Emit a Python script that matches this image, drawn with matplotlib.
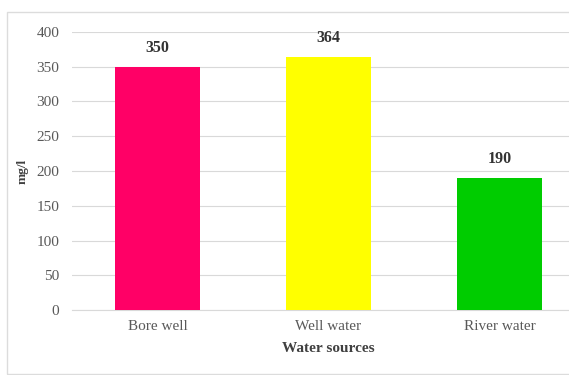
import matplotlib.pyplot as plt
from matplotlib.patches import Rectangle

sources = ["Bore well", "Well water", "River water"]
values = [350, 364, 190]
bar_colors = ["#FF0066", "#FFFF00", "#00CC00"]
y_ticks = [0, 50, 100, 150, 200, 250, 300, 350, 400]

plt.rcParams['font.family'] = ['Liberation Serif', 'DejaVu Serif']

fig = plt.figure(figsize=(5.69, 3.75), dpi=100)
ax = fig.add_axes([72/569, 65/375, 513/569, 278/375])

bars = ax.bar(range(len(sources)), values, width=0.5, color=bar_colors, zorder=3)
for b, v in zip(bars, values):
    ax.annotate(str(v), (b.get_x() + b.get_width()/2, v), xytext=(0, 8),
                textcoords='offset points', ha='center', va='bottom',
                fontsize=11.5, fontweight='bold', color='#333333')

ax.set_xlim(-0.5, 2.5)
ax.set_ylim(0, 400)
ax.set_yticks(y_ticks)
ax.set_xticks(range(len(sources)))
ax.set_xticklabels(sources)
ax.tick_params(axis='both', length=0, labelsize=11, colors='#595959')
ax.tick_params(axis='y', pad=9)
ax.tick_params(axis='x', pad=7)
ax.yaxis.grid(True, color='#d9d9d9', linewidth=0.8, zorder=0)
for s in ['top', 'right', 'left']:
    ax.spines[s].set_visible(False)
ax.spines['bottom'].set_color('#d9d9d9')

ax.set_xlabel("Water sources", fontsize=11, fontweight='bold', color='#404040', labelpad=7)
ax.set_ylabel("mg/l", fontsize=9.5, fontweight='bold', color='#404040', labelpad=6)

fig.patches.append(Rectangle((7/569, 1/375), 1.0, 362/375, transform=fig.transFigure,
                             fill=False, edgecolor='#dcdcdc', linewidth=1))

fig.savefig("out.png", dpi=100)
